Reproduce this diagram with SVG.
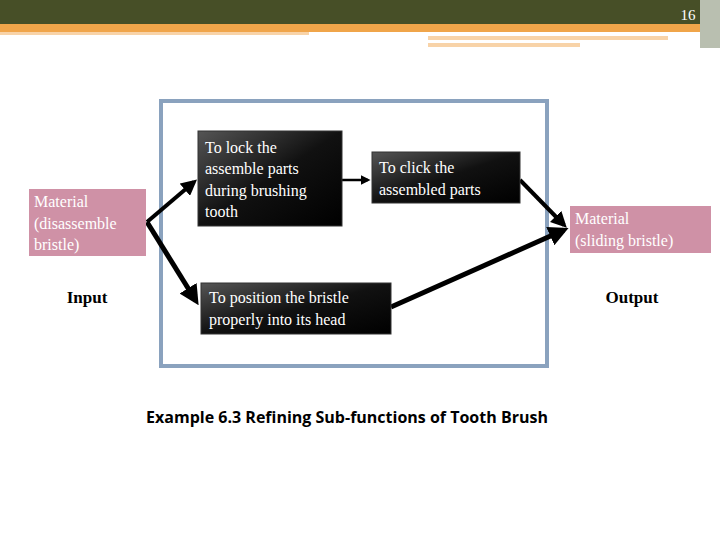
<svg xmlns="http://www.w3.org/2000/svg" width="720" height="540" viewBox="0 0 720 540">
<defs>
<linearGradient id="g" x1="0" y1="0" x2="1" y2="1"><stop offset="0" stop-color="#555"/><stop offset="0.5" stop-color="#111"/><stop offset="1" stop-color="#000"/></linearGradient>
<marker id="a" markerWidth="4" markerHeight="4" refX="3" refY="2" orient="auto"><path d="M0,0 L4,2 L0,4 z" fill="#000"/></marker>
<style>
.f{fill:url(#g);stroke:#333;stroke-width:1}
.t{font-family:"Liberation Serif",serif;font-size:16px;fill:#fff}
.m{fill:#cf91a6}
.mt{font-family:"Liberation Serif",serif;font-size:16px;fill:#fff}
.l{font-family:"Liberation Serif",serif;font-size:17px;font-weight:bold;fill:#000}
.c{stroke:#000;fill:none;marker-end:url(#a)}
</style>
</defs>
<rect width="720" height="540" fill="#fff"/>
<rect x="0" y="0" width="720" height="24" fill="#474f27"/>
<rect x="0" y="24" width="720" height="8" fill="#f0a54a"/>
<rect x="0" y="32" width="309" height="3" fill="#f8d3a8"/>
<rect x="428" y="36" width="240" height="4" fill="#f8d3a8"/>
<rect x="428" y="43" width="152" height="4" fill="#f8d3a8"/>
<rect x="700" y="0" width="20" height="48" fill="#b9bfb0"/>
<text x="688" y="20" font-family="Liberation Serif,serif" font-size="15" fill="#fff" text-anchor="middle">16</text>
<rect x="161" y="101" width="386" height="265" fill="none" stroke="#8aa2be" stroke-width="4"/>
<g id="connectors" class="c">
<path d="M147,222 L194,182" stroke-width="4"/>
<path d="M147,222 L196,301" stroke-width="5"/>
<path d="M342,180 L368,180" stroke-width="2.5"/>
<path d="M520,180 L564,225" stroke-width="4"/>
<path d="M391,307 L564,230" stroke-width="5"/>
</g>
<g id="in"><rect class="m" x="29" y="189" width="117" height="67"/>
<text class="mt" x="34" y="207">Material</text><text class="mt" x="34" y="229">(disassemble</text><text class="mt" x="34" y="250">bristle)</text></g>
<g id="out"><rect class="m" x="570" y="206" width="141" height="47"/>
<text class="mt" x="575" y="224">Material</text><text class="mt" x="575" y="246">(sliding bristle)</text></g>
<g id="lock"><rect class="f" x="198" y="131" width="144" height="95"/>
<text class="t" x="205" y="153">To lock the</text><text class="t" x="205" y="174"> assemble parts</text><text class="t" x="205" y="196">during brushing</text><text class="t" x="205" y="217">tooth</text></g>
<g id="click"><rect class="f" x="372" y="152" width="148" height="51"/>
<text class="t" x="379" y="173">To click the</text><text class="t" x="379" y="195">assembled parts</text></g>
<g id="pos"><rect class="f" x="201" y="283" width="190" height="51"/>
<text class="t" x="209" y="303">To position the bristle</text><text class="t" x="209" y="325"> properly into its head</text></g>
<text class="l" x="87" y="303" text-anchor="middle">Input</text>
<text class="l" x="632" y="303" text-anchor="middle">Output</text>
<text x="347" y="423" text-anchor="middle" font-family="Open Sans,sans-serif" font-size="16" font-weight="bold" fill="#000">Example 6.3 Refining Sub-functions of Tooth Brush</text>
</svg>
